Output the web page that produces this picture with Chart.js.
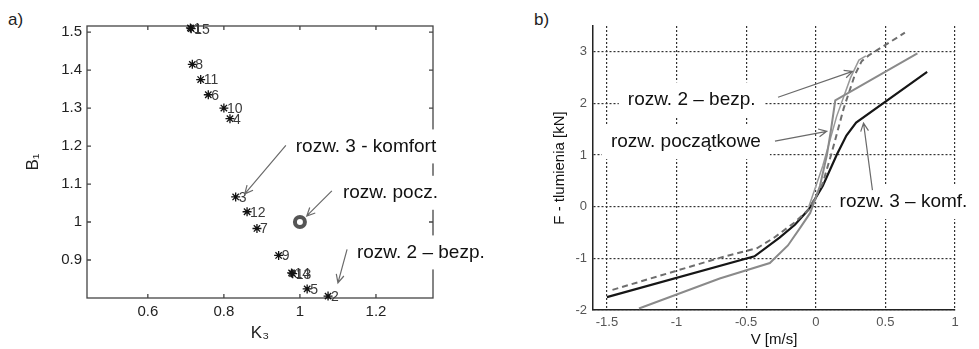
<!DOCTYPE html>
<html>
<head>
<meta charset="utf-8">
<script src="https://cdn.jsdelivr.net/npm/chart.js@4/dist/chart.umd.min.js"></script>
<style>
body { margin: 0; background: #fff; width: 979px; height: 349px; position: relative; overflow: hidden; font-family: "Liberation Sans", Arial, sans-serif; }
canvas { position: absolute; top: 0; }
#wykresA { left: 0; }
#wykresB { left: 490px; }
.litera { position: absolute; top: 10px; font-size: 17px; color: #222; }
</style>
</head>
<body>
<span class="litera" style="left:8px">a)</span>
<span class="litera" style="left:534px">b)</span>
<canvas id="wykresA" width="490" height="349"></canvas>
<canvas id="wykresB" width="489" height="349"></canvas>
<script>
// a) rozwiazania optymalizacji
var etykiety = ["1", "2", "3", "4", "5", "6", "7", "8", "9", "10", "11", "12", "13", "14", "15"];
var K3 = [0.712, 1.074, 0.831, 0.816, 1.019, 0.759, 0.887, 0.717, 0.944, 0.800, 0.739, 0.861, 0.981, 0.978, 0.714];
var B1 = [1.511, 0.805, 1.066, 1.272, 0.824, 1.335, 0.983, 1.415, 0.912, 1.300, 1.375, 1.027, 0.864, 0.866, 1.509];
var K3_pocz = [1.0];
var B1_pocz = [1.0];
var tickiK3 = [0.6, 0.8, 1, 1.2];
var tickiB1 = [0.9, 1, 1.1, 1.2, 1.3, 1.4, 1.5];

// b) charakterystyki tlumienia
var V_pocz = [-1.27, -0.69, -0.33, -0.2, -0.11, -0.04, 0.03, 0.08, 0.11, 0.14, 0.73];
var F_pocz = [-1.97, -1.39, -1.09, -0.75, -0.4, -0.12, 0.4, 1.0, 1.5, 2.06, 2.97];
var V_bezp = [-1.46, -0.69, -0.42, -0.3, -0.15, -0.05, 0.05, 0.12, 0.2, 0.28, 0.33, 0.38, 0.64];
var F_bezp = [-1.61, -0.99, -0.8, -0.6, -0.3, -0.05, 0.45, 1.1, 1.9, 2.55, 2.82, 2.93, 3.37];
var V_bezpPowrot = [-0.05, 0.05, 0.15, 0.25, 0.31, 0.36];
var F_bezpPowrot = [0.0, 0.79, 1.75, 2.5, 2.84, 2.92];
var V_komf = [-1.5, -0.44, -0.26, -0.15, -0.05, 0.05, 0.15, 0.22, 0.29, 0.8];
var F_komf = [-1.75, -0.96, -0.6, -0.35, -0.05, 0.4, 1.0, 1.38, 1.63, 2.61];
var tickiV = [-1.5, -1, -0.5, 0, 0.5, 1];
var tickiF = [-2, -1, 0, 1, 2, 3];

var czcionka = '"Liberation Sans", Arial, sans-serif';

function punkty(xs, ys){
    var wynik = [];
    for (var i = 0; i < xs.length; i++){
        wynik.push({x: xs[i], y: ys[i]});
    }
    return wynik;
}

function rysujStrzalke(ctx, x1, y1, x2, y2){
    var kat = Math.atan2(y2 - y1, x2 - x1);
    var d = 9;
    ctx.beginPath();
    ctx.moveTo(x1, y1);
    ctx.lineTo(x2, y2);
    ctx.moveTo(x2 - d * Math.cos(kat - 0.45), y2 - d * Math.sin(kat - 0.45));
    ctx.lineTo(x2, y2);
    ctx.lineTo(x2 - d * Math.cos(kat + 0.45), y2 - d * Math.sin(kat + 0.45));
    ctx.stroke();
}

// napisy ze strzalkami, polozenie w jednostkach osi
var pluginAdnotacje = {
    id: "adnotacje",
    afterDraw: function(chart, args, opts){
        var ctx = chart.ctx;
        var sx = chart.scales.x, sy = chart.scales.y;
        var napisy = opts.napisy || [];
        ctx.save();
        ctx.font = "19px " + czcionka;
        ctx.textBaseline = "middle";
        napisy.forEach(function(n){
            var px = sx.getPixelForValue(n.x), py = sy.getPixelForValue(n.y);
            var w = ctx.measureText(n.tekst).width;
            ctx.fillStyle = "#fff";
            ctx.fillRect(px - 9, py - 17, w + 18, 34);
        });
        ctx.strokeStyle = "#6a6a6a";
        ctx.lineWidth = 1.2;
        napisy.forEach(function(n){
            var s = n.strzalka;
            rysujStrzalke(ctx, sx.getPixelForValue(s[0]), sy.getPixelForValue(s[1]),
                sx.getPixelForValue(s[2]), sy.getPixelForValue(s[3]));
        });
        ctx.fillStyle = "#111";
        napisy.forEach(function(n){
            ctx.fillText(n.tekst, sx.getPixelForValue(n.x), sy.getPixelForValue(n.y));
        });
        ctx.restore();
    }
};

// ramka z kreskami do srodka (styl MATLAB)
var pluginRamka = {
    id: "ramka",
    beforeDatasetsDraw: function(chart, args, opts){
        if (!opts.wlacz) return;
        var ctx = chart.ctx, a = chart.chartArea;
        var sx = chart.scales.x, sy = chart.scales.y;
        ctx.save();
        ctx.strokeStyle = "#444";
        ctx.lineWidth = 1.3;
        ctx.strokeRect(a.left, a.top, a.right - a.left, a.bottom - a.top);
        ctx.beginPath();
        tickiK3.forEach(function(v){
            var px = sx.getPixelForValue(v);
            ctx.moveTo(px, a.bottom); ctx.lineTo(px, a.bottom - 4);
            ctx.moveTo(px, a.top); ctx.lineTo(px, a.top + 4);
        });
        tickiB1.forEach(function(v){
            var py = sy.getPixelForValue(v);
            ctx.moveTo(a.left, py); ctx.lineTo(a.left + 4, py);
            ctx.moveTo(a.right, py); ctx.lineTo(a.right - 4, py);
        });
        ctx.stroke();
        ctx.restore();
    }
};

// numery rozwiazan obok gwiazdek
var pluginNumery = {
    id: "numery",
    afterDatasetsDraw: function(chart, args, opts){
        if (!opts.wlacz) return;
        var ctx = chart.ctx;
        var meta = chart.getDatasetMeta(0);
        ctx.save();
        ctx.font = "14px " + czcionka;
        ctx.fillStyle = "#3a3a3a";
        ctx.textBaseline = "middle";
        meta.data.forEach(function(p, i){
            ctx.fillText(etykiety[i], p.x + 3, p.y + 1);
        });
        ctx.restore();
    }
};

Chart.register(pluginAdnotacje, pluginRamka, pluginNumery);

function tworzWykresA(){
    var ctx = document.getElementById("wykresA").getContext("2d");
    new Chart(ctx, {
        type: "scatter",
        data: {
            datasets: [{
                data: punkty(K3, B1),
                pointStyle: "star",
                pointRadius: 4.5,
                borderColor: "#111",
                backgroundColor: "#111",
                borderWidth: 1.3,
                clip: false
            }, {
                data: punkty(K3_pocz, B1_pocz),
                pointStyle: "circle",
                pointRadius: 5,
                borderColor: "#555",
                backgroundColor: "rgba(0,0,0,0)",
                borderWidth: 4,
                clip: false
            }]
        },
        options: {
            responsive: false,
            animation: false,
            devicePixelRatio: 1,
            layout: { padding: { left: 0, top: 26, right: 57, bottom: 0 } },
            plugins: {
                legend: { display: false },
                tooltip: { enabled: false },
                ramka: { wlacz: true },
                numery: { wlacz: true },
                adnotacje: {
                    napisy: [
                        { tekst: "rozw. 3 - komfort", x: 0.989, y: 1.199, strzalka: [0.963, 1.202, 0.855, 1.074] },
                        { tekst: "rozw. pocz.", x: 1.113, y: 1.077, strzalka: [1.084, 1.082, 1.018, 1.016] },
                        { tekst: "rozw. 2 \u2013 bezp.", x: 1.15, y: 0.92, strzalka: [1.124, 0.928, 1.1, 0.84] }
                    ]
                }
            },
            scales: {
                x: {
                    type: "linear",
                    min: 0.44,
                    max: 1.35,
                    afterBuildTicks: function(s){ s.ticks = tickiK3.map(function(v){ return {value: v}; }); },
                    afterFit: function(s){ s.height = 51; },
                    grid: { display: false, drawTicks: false },
                    border: { display: false },
                    ticks: { padding: 5, color: "#222", font: { size: 15, family: czcionka }, callback: function(v){ return String(v); } },
                    title: { display: true, text: "K\u2083", color: "#222", font: { size: 17, family: czcionka }, padding: { top: 0, bottom: 5 } }
                },
                y: {
                    type: "linear",
                    min: 0.80,
                    max: 1.516,
                    afterBuildTicks: function(s){ s.ticks = tickiB1.map(function(v){ return {value: v}; }); },
                    afterFit: function(s){ s.width = 87; },
                    grid: { display: false, drawTicks: false },
                    border: { display: false },
                    ticks: { padding: 5, color: "#222", font: { size: 15, family: czcionka }, callback: function(v){ return String(v); } },
                    title: { display: true, text: "B\u2081", color: "#222", font: { size: 17, family: czcionka }, padding: { top: 23, bottom: 0 } }
                }
            }
        }
    });
}

function tworzWykresB(){
    var ctx = document.getElementById("wykresB").getContext("2d");
    var linia = { showLine: true, pointRadius: 0, fill: false, tension: 0, clip: false };
    new Chart(ctx, {
        type: "scatter",
        data: {
            datasets: [
                Object.assign({ data: punkty(V_pocz, F_pocz), borderColor: "#8a8a8a", borderWidth: 2 }, linia),
                Object.assign({ data: punkty(V_bezpPowrot, F_bezpPowrot), borderColor: "#999", borderWidth: 1.5 }, linia),
                Object.assign({ data: punkty(V_bezp, F_bezp), borderColor: "#6e6e6e", borderWidth: 2, borderDash: [6, 4] }, linia),
                Object.assign({ data: punkty(V_komf, F_komf), borderColor: "#161616", borderWidth: 2.2 }, linia)
            ]
        },
        options: {
            responsive: false,
            animation: false,
            devicePixelRatio: 1,
            layout: { padding: { left: 0, top: 26, right: 24, bottom: 0 } },
            plugins: {
                legend: { display: false },
                tooltip: { enabled: false },
                adnotacje: {
                    napisy: [
                        { tekst: "rozw. 2 \u2013 bezp.", x: -1.35, y: 2.08, strzalka: [-0.271, 2.12, 0.264, 2.62] },
                        { tekst: "rozw. pocz\u0105tkowe", x: -1.471, y: 1.25, strzalka: [-0.293, 1.27, 0.079, 1.46] },
                        { tekst: "rozw. 3 \u2013 komf.", x: 0.171, y: 0.09, strzalka: [0.407, 0.32, 0.343, 1.62] }
                    ]
                }
            },
            scales: {
                x: {
                    type: "linear",
                    min: -1.6,
                    max: 1.0,
                    afterBuildTicks: function(s){ s.ticks = tickiV.map(function(v){ return {value: v}; }); },
                    afterFit: function(s){ s.height = 39; },
                    grid: { color: "#333", lineWidth: 1.2, drawTicks: false },
                    border: { display: true, color: "#222", width: 1.5, dash: [2, 2] },
                    ticks: { padding: 5, color: "#555", font: { size: 13, family: czcionka }, callback: function(v){ return String(v); } },
                    title: { display: true, text: "V [m/s]", color: "#111", font: { size: 15, family: czcionka }, padding: { top: 0, bottom: 0 } }
                },
                y: {
                    type: "linear",
                    min: -2,
                    max: 3.5,
                    afterBuildTicks: function(s){ s.ticks = tickiF.map(function(v){ return {value: v}; }); },
                    afterFit: function(s){ s.width = 103; },
                    grid: { color: "#333", lineWidth: 1.2, drawTicks: false },
                    border: { display: true, color: "#222", width: 1.5, dash: [2, 2] },
                    ticks: { padding: 6, color: "#555", font: { size: 13, family: czcionka }, callback: function(v){ return String(v); } },
                    title: { display: true, text: "F - tlumienia [kN]", color: "#111", font: { size: 15, family: czcionka }, padding: { top: 61, bottom: 0 } }
                }
            }
        }
    });
}

document.addEventListener("DOMContentLoaded", function(){
    tworzWykresA();
    tworzWykresB();
});
</script>
</body>
</html>
